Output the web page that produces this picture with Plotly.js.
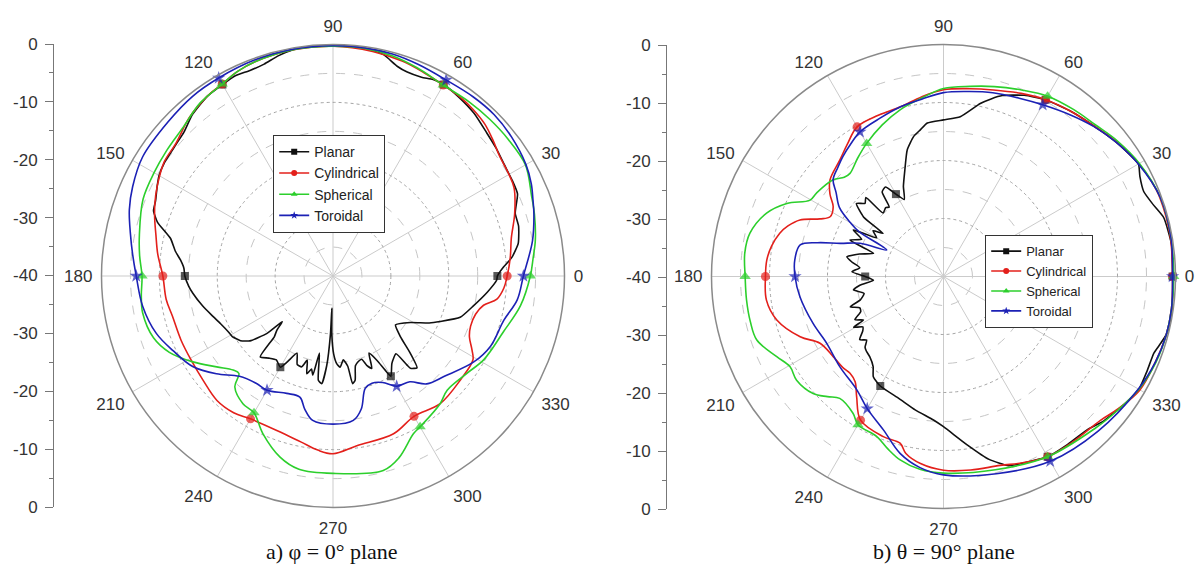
<!DOCTYPE html>
<html><head><meta charset="utf-8">
<script src="https://cdn.plot.ly/plotly-3.0.1.min.js"></script>
<style>html,body{margin:0;padding:0;background:#fff}#chart{width:1202px;height:570px}</style>
</head><body><div id="chart"></div>
<script>
// ---------- data ----------
const seriesNames = ['Planar', 'Cylindrical', 'Spherical', 'Toroidal'];
const angleTicks = [0, 30, 60, 90, 120, 150, 180, 210, 240, 270, 300, 330];
const angleTickText = ['0', '30', '60', '90', '120', '150', '180', '210', '240', '270', '300', '330'];
const gainTickVals = [-40, -30, -20, -10, 0, 10, 20, 30, 40];
const gainTickText = ['0', '-10', '-20', '-30', '-40', '-30', '-20', '-10', '0'];
const captionA = 'a) φ = 0° plane';
const captionB = 'b) θ = 90° plane';

// a) phi = 0 plane
const planarA_theta = [0,3,6,10,15,19,24,28,33,38,43,49,55,60,63,66,70,73,77,80,85,90,95,100,104,108,112,116,120,125,131,136,140,146,150,153,157,160,163,167,171,174,177,180,184,187,193,198,203,208,211,215,218,221,222,224,226,228,232,236,240,242,245,248,251,253,255,257,258.5,260,262,264,266,267.5,268,268.8,270.5,272.5,274.5,277,279.3,280.3,282,284,286.5,289,290.7,292.8,295,297.5,299,300,304,309,310,312.5,315,318,322,329,334,337,342,348,354,358.6,360];
const planarA_r = [-11.6,-10.5,-8.9,-7.5,-6.8,-6.7,-5.1,-4.9,-4.7,-4.2,-3.7,-2.8,-2.2,-1.8,-1.9,-2.4,-2.5,-2.1,-0.8,-0.4,-0.2,-0.1,-0.1,-0.3,-0.8,-1.5,-1.7,-1.5,-1.8,-2.1,-3.0,-4.2,-4.6,-4.9,-5.3,-5.9,-6.7,-7.0,-8.3,-11.2,-12.4,-13.5,-14.2,-14.4,-15.0,-15.6,-16.9,-18.0,-18.9,-19.5,-19.7,-20.5,-21.8,-24.9,-28.2,-26.5,-25.4,-21.2,-22.0,-22.5,-21.8,-23.2,-25.3,-23.5,-23.4,-24.8,-22.5,-23.5,-22.5,-26.5,-21.8,-21.3,-24.5,-30,-34.4,-30,-26.5,-24.8,-24.2,-25.4,-24.2,-21.1,-21.6,-24,-24.6,-24.8,-23.5,-22.7,-25.3,-23.6,-21.4,-20,-21.8,-22.7,-19.2,-18.5,-21.1,-24.3,-26.3,-24.4,-21.5,-19.9,-16.9,-15.2,-13.2,-11.7,-11.6];
const cylindricalA_theta = [0,6,12,19,26,30,36,40,45,50,54,60,66,72,80,90,100,110,115,120,125,132,140,146,153,158,162,167,173,180,188,194,203,211,219,227,234,240,250,259,265,270,278,291,300,310,321,329,332,336,340,345,349,352,356,360];
const cylindricalA_r = [-9.9,-9.2,-8.5,-6.8,-5.2,-4.9,-4.5,-3.8,-2.9,-2.4,-2.1,-1.9,-1.5,-1.0,-0.6,-0.3,-0.3,-0.6,-1.0,-1.7,-2.1,-3.0,-4.5,-4.8,-5.9,-6.8,-7.6,-8.6,-9.5,-10.6,-10.9,-11.4,-11.5,-11.5,-11.2,-10.6,-10.8,-11.5,-11.6,-10.8,-9.8,-9.3,-10.4,-10.8,-12,-11.2,-11.6,-11.8,-12.8,-14.2,-14.7,-14.5,-13.5,-11.4,-10.4,-9.9];
const sphericalA_theta = [0,5,10,17,22,30,38,45,52,60,68,75,82,90,100,110,115,120,127.5,135,143,150,158,168,174,180,186,191,199,205,211.5,218,223.3,226,228.5,234.8,240,246,253.7,260,270,284.5,290,297,300,310,315,324,331,342,351,360];
const sphericalA_r = [-5.9,-5.3,-4.5,-3.6,-3.0,-1.6,-1.6,-1.7,-1.8,-1.9,-1.2,-0.6,-0.3,-0.3,-0.3,-0.6,-1.0,-1.7,-2.3,-3.5,-4.0,-4.3,-4.6,-5.8,-6.4,-7.0,-6.7,-6.5,-7.2,-8.8,-11.6,-14.5,-16.3,-16.6,-14.4,-13.0,-12.7,-10.2,-7.4,-6.1,-5.9,-5.3,-6.6,-9.4,-9.9,-11.2,-12.1,-11.4,-10.2,-9.0,-7.2,-5.9];
const toroidalA_theta = [0,10,17,21,25,30,38,45,52,60,68,75,82,90,100,110,120,128,137,148,156,162,168,174,180,189,198,205,213,220,227,234.6,240,248.5,254.7,258,262,270,278,282,286,290,295,300,306,311,318,328.6,336,345.5,352.6,360];
const toroidalA_r = [-7.1,-5.0,-3.7,-3.0,-2.2,-1.5,-0.9,-0.6,-0.7,-0.9,-0.6,-0.3,-0.2,-0.2,-0.2,-0.3,-0.5,-0.6,-1.0,-1.2,-2.1,-3.0,-4.2,-5.2,-6.0,-6.7,-7.9,-9.5,-11.2,-13.7,-16.3,-17.2,-17.2,-18.2,-18.3,-16.5,-14.8,-14.4,-14.8,-16.5,-19.8,-20.3,-19.7,-18.0,-17.4,-15.3,-14.1,-11.5,-10.2,-9.5,-7.9,-7.1];

// b) theta = 90 plane
const planarB_theta = [0,8,15,19,23,27,30,38,45,52,60,66,72,75,78,84,90,96,99,102,106,110,114,117,120,123,126,128,130,133.6,134.5,137,140,143.3,144.5,147,150,152.7,155.5,158.7,161.7,165,168.5,171,174,177,180,183,186,188.5,192,195.7,198,200.5,203,206,208.5,209.5,212,214,217,219.6,222,224,227.5,232,235,240,250,258,266,270,278,284,289,295,300,306,313,318,325,330,335,340,343,346,352,360];
const planarB_r = [-0.5,-0.3,-0.7,-1.8,-2.5,-2.0,-1.2,-2.3,-3.3,-4.0,-4.8,-5.8,-7.2,-8.3,-9.5,-12.3,-13.0,-13.4,-14.4,-15.3,-17.3,-20.5,-23.0,-25.1,-23.6,-21.6,-22.0,-24.8,-24.5,-24.9,-20.9,-21.5,-20.4,-22.8,-27.2,-25.5,-26.7,-22.5,-24.5,-22.7,-27.3,-25.0,-23.0,-24.0,-25.5,-24.2,-26.5,-27.9,-25.5,-24.3,-26.0,-25.1,-23.1,-24.6,-24.5,-23.0,-24.3,-22.2,-23.6,-23.2,-21.9,-22.8,-21.8,-21.5,-21.2,-20.3,-18.9,-18.2,-17.6,-16.5,-15.2,-14.1,-10.7,-7.5,-5.5,-4.8,-4.1,-4.0,-3.8,-2.8,-1.8,-1.1,-1.3,-1.4,-0.8,-0.2,-0.2,-0.5];
const cylindricalB_theta = [0,10,20,25,30,38,45,52,60,67,75,82,90,97,104,112,120,126,131.6,139.6,144,147.7,152.2,155,158.5,162,165.2,170,174.7,180,187.6,194.6,202.8,208.4,216,222,226,230,234.2,240,249.4,255.4,258,263,270,278,286.7,293,300,308,317.5,323,330,338,345,352,360];
const cylindricalB_r = [-0.5,-0.3,-0.3,-0.6,-1.1,-2.2,-3.3,-4.0,-4.8,-5.7,-6.7,-7.3,-7.8,-8.8,-9.8,-10.0,-10.2,-11.8,-13.1,-14.3,-15.8,-17.5,-17.9,-16.5,-13.4,-11.8,-10.8,-9.9,-9.4,-9.3,-9.2,-10.3,-13.2,-15.8,-16.5,-16.6,-16.8,-16.3,-14.4,-11.4,-10.5,-10.3,-8.8,-7.5,-6.6,-6.3,-6.0,-5.1,-4.1,-3.8,-3.3,-2.2,-0.9,-0.6,-0.3,-0.3,-0.5];
const sphericalB_theta = [0,10,20,30,38,45,52,60,67,75,82,90,97,104.6,112,120,126,132.2,135,138.8,146.7,150.2,155,160.3,167.4,173.3,180,186.8,193,198.8,205.7,210.4,215.2,221.9,226,229.6,236.6,240,247.4,252,256.7,263,270,285,300,315,322,330,338,345,352,360];
const sphericalB_r = [-0.3,-0.2,-0.2,-1.0,-2.0,-3.0,-3.5,-4.1,-5.1,-6.1,-6.9,-7.6,-9.0,-10.3,-11.8,-13.5,-14.8,-16.0,-15.8,-14.7,-13.8,-13.5,-10.2,-7.6,-5.8,-5.5,-5.8,-5.8,-5.8,-6.0,-8.1,-9.3,-9.0,-9.8,-11.2,-12.4,-11.7,-10.5,-10.1,-8.8,-7.5,-6.5,-6.1,-5.5,-4.1,-3.0,-2.2,-1.1,-0.5,-0.3,-0.3,-0.3];
const toroidalB_theta = [0,10,20,30,38,45,52,60,67,75,82,90,97,104,112,120,125,130,134,138.8,142,146.5,150,152,155,158.3,162.2,165,167.6,173.7,180,188,199.8,209.8,221.1,232.6,240,248.6,256.2,263,270,285,300,315,330,338,345,352,360];
const toroidalB_r = [-0.5,-0.2,-0.2,-1.2,-2.3,-3.4,-4.6,-5.8,-6.6,-7.2,-7.8,-8.3,-9.2,-9.8,-10.6,-11.2,-12.1,-13.0,-13.8,-14.7,-16.5,-18.5,-21.5,-23.5,-29.2,-24.5,-21.3,-17.5,-14.7,-14.2,-14.4,-15.0,-16.1,-16.8,-16.3,-15.4,-13.7,-11.6,-8.6,-6.8,-5.8,-4.8,-3.2,-2.3,-1.2,-0.6,-0.3,-0.3,-0.5];

// ---------- style ----------
const FONT = 'Liberation Sans, Arial, sans-serif';
const colors = ['#111111', '#e3201b', '#2ccf2c', '#1c21b5'];
const symbols = ['square', 'circle', 'triangle-up', 'star'];
const symbolSizes = [8, 9, 10, 10];
const smoothing = [0.5, 1, 1, 1];

const plotA = [[planarA_theta, planarA_r], [cylindricalA_theta, cylindricalA_r], [sphericalA_theta, sphericalA_r], [toroidalA_theta, toroidalA_r]];
const plotB = [[planarB_theta, planarB_r], [cylindricalB_theta, cylindricalB_r], [sphericalB_theta, sphericalB_r], [toroidalB_theta, toroidalB_r]];

function markerSizes(th, s) { return th.map(t => (t % 60 === 0 && t < 360) ? s : 0); }

const traces = [];
// carriers for the two side gain scales
traces.push({ type: 'scatter', x: [], y: [], xaxis: 'x', yaxis: 'y', showlegend: false, hoverinfo: 'skip' });
traces.push({ type: 'scatter', x: [], y: [], xaxis: 'x2', yaxis: 'y2', showlegend: false, hoverinfo: 'skip' });

function addPlot(series, dataPolar, gridPolar, legendId) {
  series.forEach(([th, r], i) => {
    if (th.length !== r.length) throw new Error('length mismatch ' + seriesNames[i] + ' ' + th.length + ' vs ' + r.length);
    traces.push({
      type: 'scatterpolar', subplot: dataPolar, theta: th, r: r, mode: 'lines+markers',
      line: { color: colors[i], width: 1.6, shape: 'spline', smoothing: smoothing[i] },
      marker: { symbol: symbols[i], size: markerSizes(th, symbolSizes[i]), color: colors[i], line: { width: 0 } },
      showlegend: false, hoverinfo: 'skip', cliponaxis: false
    });
  });
  series.forEach((_, i) => {
    traces.push({
      type: 'scatterpolar', subplot: gridPolar, theta: [null], r: [null], mode: 'lines+markers',
      name: seriesNames[i], legend: legendId,
      line: { color: colors[i], width: 1.6 },
      marker: { symbol: symbols[i], size: 6, color: colors[i] },
      hoverinfo: 'skip'
    });
  });
}
addPlot(plotA, 'polar2', 'polar', 'legend');
addPlot(plotB, 'polar4', 'polar3', 'legend2');

const W = 1202, H = 570;
function dom(cx, cy, R) { return { x: [(cx - R) / W, (cx + R) / W], y: [1 - (cy + R) / H, 1 - (cy - R) / H] }; }
const domA = dom(333, 276, 231.5);
const domB = dom(943.5, 276.5, 232);

function gridPolar(d) {
  return {
    domain: d, bgcolor: 'rgba(0,0,0,0)',
    radialaxis: { range: [-40, 0], tickvals: [-35, -25, -15, -5], showticklabels: false, ticks: '', showline: false,
      gridcolor: '#c6c6c6', griddash: 'dash', gridwidth: 1 },
    angularaxis: { showgrid: false, showline: false, showticklabels: false, ticks: '' }
  };
}
function dataPolar(d) {
  return {
    domain: d, bgcolor: 'rgba(0,0,0,0)',
    radialaxis: { range: [-40, 0], tickvals: [-30, -20, -10], showticklabels: false, ticks: '', showline: false,
      gridcolor: '#a4a4a4', griddash: 'dot', gridwidth: 1 },
    angularaxis: { tickmode: 'array', tickvals: angleTicks, ticktext: angleTickText, direction: 'counterclockwise', rotation: 0,
      gridcolor: '#cbcbcb', gridwidth: 1, showline: true, linecolor: '#8a8a8a', linewidth: 1.5,
      ticks: 'outside', ticklen: 5, tickcolor: 'rgba(0,0,0,0)',
      tickfont: { family: FONT, size: 17, color: '#333' } }
  };
}
function gainAxis(d0, d1, pos) {
  return {
    domain: [d0, d1], anchor: 'free', position: pos, range: [-40, 40], tickmode: 'array',
    tickvals: gainTickVals, ticktext: gainTickText, showline: true, linecolor: '#777', linewidth: 1,
    ticks: 'outside', ticklen: 8, tickcolor: '#777', showgrid: false, zeroline: false, fixedrange: true,
    ticklabelstandoff: 4,
    tickfont: { family: FONT, size: 17, color: '#333' },
    minor: { tickmode: 'linear', tick0: -40, dtick: 5, ticks: 'outside', ticklen: 4, tickcolor: '#777', showgrid: false }
  };
}
function legendCfg(x, y, size) {
  return { x: x, y: y, xanchor: 'left', yanchor: 'top', bgcolor: '#fff', bordercolor: '#333', borderwidth: 1.2,
    font: { family: FONT, size: size, color: '#222' }, tracegroupgap: 0 };
}

const layout = {
  width: W, height: H, margin: { l: 0, r: 0, t: 0, b: 0 },
  paper_bgcolor: '#fff', plot_bgcolor: 'rgba(0,0,0,0)', showlegend: true,
  polar: gridPolar(domA), polar2: dataPolar(domA),
  polar3: gridPolar(domB), polar4: dataPolar(domB),
  xaxis: { domain: [0.0, 0.02], visible: false, fixedrange: true },
  yaxis: gainAxis(1 - 507 / H, 1 - 44 / H, 53 / W),
  xaxis2: { domain: [0.55, 0.56], visible: false, fixedrange: true },
  yaxis2: gainAxis(1 - 509 / H, 1 - 45 / H, 666 / W),
  legend: legendCfg(273 / W, 1 - 135 / H, 14),
  legend2: legendCfg(985 / W, 1 - 235 / H, 13),
  annotations: [
    { text: captionA, xref: 'paper', yref: 'paper', x: 332 / W, y: 1 - 551 / H, xanchor: 'center', yanchor: 'middle', showarrow: false,
      font: { family: 'Liberation Serif, Times New Roman, serif', size: 22, color: '#111' } },
    { text: captionB, xref: 'paper', yref: 'paper', x: 944 / W, y: 1 - 551 / H, xanchor: 'center', yanchor: 'middle', showarrow: false,
      font: { family: 'Liberation Serif, Times New Roman, serif', size: 22, color: '#111' } }
  ]
};

Plotly.newPlot('chart', traces, layout, { staticPlot: true, displayModeBar: false });
</script>
</body></html>
